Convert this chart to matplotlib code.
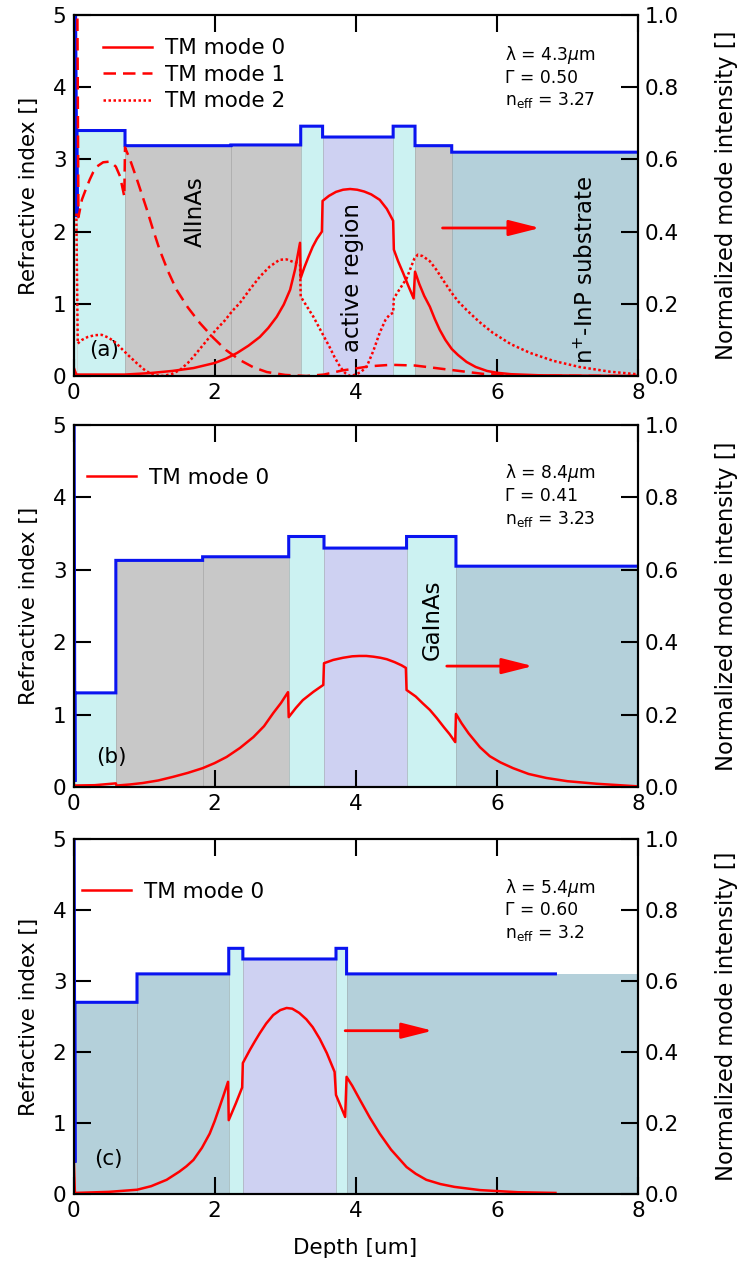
import matplotlib
matplotlib.use("Agg")
import matplotlib.pyplot as plt

# ---------------- data ----------------
# index profiles: metal contact (start/end value), then layer edges and indices
a_metal = [9.0, 2.2]
a_edges = [0.05, 0.73, 2.23, 3.22, 3.53, 4.53, 4.84, 5.36, 8.0]
a_n = [3.40, 3.19, 3.20, 3.46, 3.31, 3.46, 3.19, 3.10]
a_mat = ['clad', 'alinas', 'alinas', 'gainas', 'active', 'gainas', 'alinas', 'sub']

b_metal = [9.0, 0.07]
b_edges = [0.02, 0.60, 1.83, 3.05, 3.55, 4.72, 5.42, 8.0]
b_n = [1.30, 3.13, 3.18, 3.46, 3.30, 3.46, 3.05]
b_mat = ['clad', 'alinas', 'alinas', 'gainas', 'active', 'gainas', 'sub']

c_metal = [9.0, 0.44]
c_edges = [0.02, 0.90, 2.20, 2.40, 3.72, 3.87, 6.83]
c_n = [2.70, 3.10, 3.46, 3.31, 3.46, 3.10]
c_mat = ['sub', 'sub', 'gainas', 'active', 'gainas', 'sub']
c_tail = [6.83, 8.0, 3.10, 'sub']   # substrate fill beyond the plotted profile

# mode intensities (right axis)
a_m0_x = [0.0, 0.04, 0.73, 1.08, 1.4, 1.7, 2.0, 2.16, 2.32, 2.48, 2.64, 2.76, 2.88, 2.98, 3.07,
          3.14, 3.21, 3.22, 3.27, 3.33, 3.39, 3.45, 3.52, 3.53, 3.62, 3.72, 3.82, 3.92, 4.02,
          4.12, 4.22, 4.34, 4.44, 4.53, 4.54, 4.6, 4.67, 4.74, 4.82, 4.84, 4.9, 4.97, 5.05,
          5.12, 5.19, 5.27, 5.36, 5.45, 5.57, 5.7, 5.86, 6.0, 6.2, 6.6, 7.2, 8.0]
a_m0_y = [0.025, 0.004, 0.004, 0.008, 0.014, 0.022, 0.036, 0.048, 0.064, 0.084, 0.108, 0.133,
          0.164, 0.198, 0.239, 0.295, 0.369, 0.272, 0.30, 0.33, 0.358, 0.38, 0.40, 0.485,
          0.499, 0.51, 0.516, 0.518, 0.516, 0.511, 0.503, 0.488, 0.463, 0.43, 0.35, 0.318,
          0.286, 0.252, 0.215, 0.289, 0.255, 0.222, 0.192, 0.158, 0.128, 0.10, 0.075, 0.058,
          0.039, 0.025, 0.014, 0.009, 0.005, 0.002, 0.001, 0.0]

a_m1_x = [0.05, 0.07, 0.12, 0.18, 0.23, 0.28, 0.33, 0.42, 0.52, 0.6, 0.66, 0.72, 0.73, 0.8,
          0.9, 1.04, 1.12, 1.22, 1.34, 1.46, 1.62, 1.79, 1.98, 2.16, 2.36, 2.55, 2.74, 3.0,
          3.3, 3.55, 3.8, 4.2, 4.5, 4.84, 5.3, 5.8, 6.3, 8.0]
a_m1_y = [1.2, 0.44, 0.489, 0.52, 0.544, 0.565, 0.58, 0.592, 0.594, 0.58, 0.553, 0.497, 0.633,
          0.60, 0.544, 0.461, 0.41, 0.35, 0.29, 0.239, 0.19, 0.147, 0.106, 0.072, 0.044,
          0.024, 0.011, 0.003, 0.0, 0.004, 0.015, 0.027, 0.031, 0.029, 0.018, 0.006, 0.001,
          0.0]

a_m2_x = [0.04, 0.06, 0.12, 0.2, 0.3, 0.4, 0.5, 0.6, 0.7, 0.8, 0.9, 1.0, 1.08, 1.18, 1.27,
          1.4, 1.51, 1.62, 1.72, 1.82, 1.93, 2.04, 2.15, 2.25, 2.36, 2.5, 2.64, 2.78, 2.92,
          3.02, 3.1, 3.21, 3.22, 3.3, 3.4, 3.52, 3.63, 3.7, 3.78, 3.85, 3.92, 4.0, 4.08, 4.16,
          4.25, 4.34, 4.42, 4.48, 4.53, 4.54, 4.62, 4.72, 4.78, 4.83, 4.88, 4.95, 5.05, 5.14,
          5.25, 5.36, 5.45, 5.57, 5.75, 5.94, 6.2, 6.47, 6.8, 7.17, 7.6, 7.98]
a_m2_y = [0.45, 0.09, 0.10, 0.108, 0.113, 0.114, 0.106, 0.092, 0.072, 0.053, 0.035, 0.018,
          0.008, 0.002, 0.0, 0.006, 0.017, 0.036, 0.058, 0.082, 0.108, 0.132, 0.155, 0.18,
          0.203, 0.24, 0.275, 0.303, 0.322, 0.323, 0.317, 0.31, 0.22, 0.195, 0.164, 0.12,
          0.08, 0.052, 0.025, 0.008, 0.0, 0.004, 0.012, 0.028, 0.07, 0.12, 0.155, 0.17, 0.175,
          0.215, 0.24, 0.27, 0.30, 0.325, 0.336, 0.332, 0.318, 0.295, 0.262, 0.23, 0.207,
          0.183, 0.15, 0.12, 0.088, 0.064, 0.042, 0.025, 0.012, 0.005]

b_m0_x = [0.0, 0.3, 0.6, 0.61, 0.8, 0.98, 1.2, 1.41, 1.62, 1.83, 2.0, 2.17, 2.36, 2.55, 2.7,
          2.83, 2.94, 3.04, 3.05, 3.15, 3.25, 3.4, 3.54, 3.55, 3.68, 3.82, 3.95, 4.05, 4.15,
          4.25, 4.35, 4.44, 4.55, 4.65, 4.71, 4.72, 4.85, 4.95, 5.05, 5.15, 5.25, 5.33, 5.41,
          5.42, 5.5, 5.6, 5.76, 5.9, 6.05, 6.23, 6.45, 6.7, 7.0, 7.41, 7.98]
b_m0_y = [0.004, 0.005, 0.01, 0.004, 0.007, 0.011, 0.018, 0.028, 0.039, 0.052, 0.066, 0.083,
          0.108, 0.138, 0.168, 0.204, 0.232, 0.262, 0.193, 0.218, 0.24, 0.263, 0.282, 0.342,
          0.351, 0.357, 0.361, 0.362, 0.362, 0.36, 0.357, 0.353, 0.345, 0.336, 0.329, 0.268,
          0.25, 0.231, 0.213, 0.19, 0.165, 0.146, 0.124, 0.202, 0.176, 0.148, 0.11, 0.085,
          0.068, 0.052, 0.036, 0.025, 0.016, 0.009, 0.002]

c_m0_x = [0.0, 0.02, 0.5, 0.9, 1.1, 1.32, 1.5, 1.6, 1.70, 1.82, 1.93, 2.0, 2.07, 2.13, 2.19,
          2.20, 2.3, 2.39, 2.40, 2.5, 2.57, 2.64, 2.73, 2.83, 2.93, 3.02, 3.1, 3.2, 3.3, 3.39,
          3.49, 3.59, 3.70, 3.72, 3.85, 3.87, 3.95, 4.06, 4.2, 4.34, 4.5, 4.72, 4.85, 5.0,
          5.2, 5.4, 5.76, 6.3, 6.83]
c_m0_y = [0.12, 0.003, 0.006, 0.012, 0.022, 0.04, 0.063, 0.078, 0.096, 0.13, 0.17, 0.205,
          0.245, 0.28, 0.316, 0.208, 0.255, 0.30, 0.369, 0.406, 0.43, 0.453, 0.48, 0.504,
          0.518, 0.524, 0.522, 0.51, 0.492, 0.47, 0.437, 0.397, 0.344, 0.279, 0.217, 0.33,
          0.305, 0.265, 0.215, 0.17, 0.125, 0.076, 0.057, 0.04, 0.028, 0.02, 0.011, 0.005,
          0.003]

a_info = ['λ = 4.3$\\mu$m', 'Γ = 0.50', r'n$_{\rm eff}$ = 3.27']
b_info = ['λ = 8.4$\\mu$m', 'Γ = 0.41', r'n$_{\rm eff}$ = 3.23']
c_info = ['λ = 5.4$\\mu$m', 'Γ = 0.60', r'n$_{\rm eff}$ = 3.2']

xticks = [0, 2, 4, 6, 8]
yticks_left = [0, 1, 2, 3, 4, 5]
yticks_right = [0.0, 0.2, 0.4, 0.6, 0.8, 1.0]

# ---------------- style ----------------
colors = {'clad': '#ccf2f2', 'gainas': '#ccf2f2', 'alinas': '#c8c8c8',
          'active': '#ced1f2', 'sub': '#b4d0da'}
FS = 15.5
W, H = 741, 1273
fig = plt.figure(figsize=(W / 100, H / 100), dpi=100)

L = 73.5 / W
AW = (638 - 73.5) / W
panels = [(15, 376), (425, 787), (839, 1194)]


def make_axes(top, bot):
    ax = fig.add_axes([L, 1 - bot / H, AW, (bot - top) / H])
    tw = ax.twinx()
    ax.set_xlim(0, 8)
    ax.set_ylim(0, 5)
    tw.set_ylim(0, 1)
    ax.set_xticks(xticks)
    ax.set_yticks(yticks_left)
    tw.set_yticks(yticks_right)
    tw.set_yticklabels(['%.1f' % v for v in yticks_right])
    ax.tick_params(direction='in', length=12, width=1.5, labelsize=FS, top=True, right=False,
                   pad=5)
    tw.tick_params(direction='in', length=12, width=1.5, labelsize=FS, pad=5)
    for sp in list(ax.spines.values()) + list(tw.spines.values()):
        sp.set_linewidth(1.5)
    yc = 1 - (top + bot) / 2 / H
    fig.text(29 / W, yc, 'Refractive index []', fontsize=FS, rotation=90,
             ha='center', va='center')
    fig.text(727 / W, yc, 'Normalized mode intensity []', fontsize=16.3, rotation=90,
             ha='center', va='center')
    return ax, tw


def draw_profile(ax, metal, edges, ns, mats, tail=None):
    for i in range(len(ns)):
        ax.fill_between([edges[i], edges[i + 1]], 0, ns[i], facecolor=colors[mats[i]],
                        edgecolor=(0, 0, 0, 0.12), lw=0.7, zorder=1)
    if tail is not None:
        ax.fill_between([tail[0], tail[1]], 0, tail[2], facecolor=colors[tail[3]],
                        lw=0, zorder=1)
    ax.fill_between([0, edges[0]], 0, ns[0], facecolor=colors[mats[0]], lw=0, zorder=1)
    px = [0, edges[0]]
    pn = [metal[0], metal[1]]
    for i in range(len(ns)):
        px += [edges[i], edges[i + 1]]
        pn += [ns[i], ns[i]]
    ax.plot(px, pn, color='#0a14f0', lw=2.2, zorder=3, solid_joinstyle='miter')


def info(ax, lines, ys):
    for t, y in zip(lines, ys):
        ax.text(6.12, y, t, transform=ax.get_xaxis_transform(), fontsize=12.3, va='center',
                ha='left', zorder=6)


def arrow(ax, x0, x1, y):
    ax.annotate('', xy=(x1, y), xytext=(x0, y),
                arrowprops=dict(arrowstyle='-|>,head_length=0.95,head_width=0.24',
                                color='red', lw=2, shrinkA=0, shrinkB=0, mutation_scale=20),
                zorder=6)


red = '#ff0000'
LW = 1.8

# ---- panel (a)
ax, tw = make_axes(*panels[0])
draw_profile(ax, a_metal, a_edges, a_n, a_mat)
tw.plot(a_m0_x, a_m0_y, color=red, lw=LW, label='TM mode 0')
tw.plot(a_m1_x, a_m1_y, color=red, lw=LW, ls=(0, (5, 2.8)), label='TM mode 1')
tw.plot(a_m2_x, a_m2_y, color=red, lw=LW, ls=(0, (1, 1)), label='TM mode 2')
tw.legend(loc='upper left', bbox_to_anchor=(0.052, 0.935), frameon=False, fontsize=FS,
          handlelength=2.27, handletextpad=0.6, labelspacing=0.3, borderpad=0,
          borderaxespad=0)
info(ax, a_info, [0.889, 0.825, 0.765])
ax.text(1.72, 2.28, 'AlInAs', rotation=90, fontsize=16.5, ha='center', va='center', zorder=5)
ax.text(3.96, 1.36, 'active region', rotation=90, fontsize=16.5, ha='center', va='center',
        zorder=5)
ax.text(7.27, 1.47, r'n$^{+}$-InP substrate', rotation=90, fontsize=16.5, ha='center',
        va='center', zorder=5)
ax.text(0.43, 0.36, '(a)', fontsize=FS, ha='center', va='center', zorder=5)
arrow(ax, 5.23, 6.61, 2.05)

# ---- panel (b)
ax, tw = make_axes(*panels[1])
draw_profile(ax, b_metal, b_edges, b_n, b_mat)
tw.plot(b_m0_x, b_m0_y, color=red, lw=LW, label='TM mode 0')
tw.legend(loc='upper left', bbox_to_anchor=(0.024, 0.882), frameon=False, fontsize=FS,
          handlelength=2.27, handletextpad=0.6, borderpad=0, borderaxespad=0)
info(ax, b_info, [0.867, 0.804, 0.740])
ax.text(5.08, 2.31, 'GaInAs', rotation=90, fontsize=16.5, ha='center', va='center', zorder=5)
ax.text(0.53, 0.42, '(b)', fontsize=FS, ha='center', va='center', zorder=5)
arrow(ax, 5.29, 6.51, 1.67)

# ---- panel (c)
ax, tw = make_axes(*panels[2])
draw_profile(ax, c_metal, c_edges, c_n, c_mat, tail=c_tail)
tw.plot(c_m0_x, c_m0_y, color=red, lw=LW, label='TM mode 0')
tw.legend(loc='upper left', bbox_to_anchor=(0.015, 0.880), frameon=False, fontsize=FS,
          handlelength=2.27, handletextpad=0.6, borderpad=0, borderaxespad=0)
info(ax, c_info, [0.862, 0.800, 0.735])
ax.text(0.50, 0.50, '(c)', fontsize=FS, ha='center', va='center', zorder=5)
arrow(ax, 3.85, 5.09, 2.30)

fig.text(0.479, 1 - 1248 / H, 'Depth [um]', fontsize=FS, ha='center', va='center')

fig.savefig('out.png', dpi=100)
